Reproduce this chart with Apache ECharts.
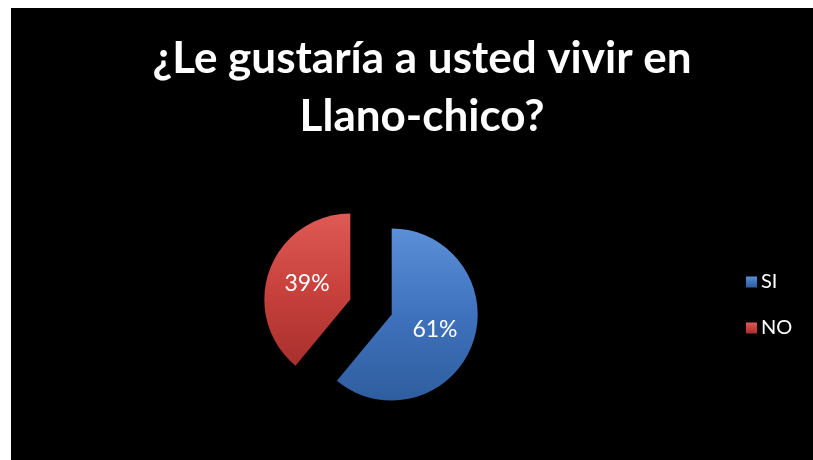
<!DOCTYPE html>
<html>
<head>
<meta charset="utf-8">
<script src="https://cdn.jsdelivr.net/npm/echarts@6/dist/echarts.min.js"></script>
<style>
html,body{margin:0;padding:0;background:#fff;}
#main{width:813px;height:460px;}
</style>
</head>
<body>
<div id="main"></div>
<script>
const titleLines = ['¿Le gustaría a usted vivir en', 'Llano-chico?'];
const categories = ['SI', 'NO'];
const values = [61, 39];
const labels = ['61%', '39%'];

const palette = [
  ['#5b90d8', '#3f72bd', '#2f5e9f'],
  ['#de5a55', '#c8413d', '#a8302d']
];

const chart = echarts.init(document.getElementById('main'));
chart.setOption({
  backgroundColor: '#ffffff',
  animation: false,
  graphic: [{
    type: 'rect', z: 0, silent: true,
    shape: {x: 11, y: 8, width: 802, height: 452},
    style: {fill: '#000000'}
  }],
  title: {
    text: titleLines.join('\n'),
    left: 417, top: 25, textAlign: 'center',
    textStyle: {color: '#ffffff', fontFamily: 'Lato', fontWeight: 'bold', fontSize: 44, lineHeight: 58}
  },
  legend: {
    orient: 'vertical', left: 741, top: 267,
    icon: 'rect', itemWidth: 11, itemHeight: 11, itemGap: 26,
    selectedMode: false,
    textStyle: {color: '#ffffff', fontFamily: 'Lato', fontSize: 20, padding: [0,0,0,-1]},
    data: categories
  },
  series: [{
    type: 'pie',
    center: [371, 307],
    radius: 86,
    startAngle: 90,
    clockwise: true,
    selectedMode: 'multiple',
    selectedOffset: 22,
    select: {itemStyle: {}},
    emphasis: {disabled: true},
    label: {
      show: true, position: 'inside', color: '#ffffff',
      fontFamily: 'Lato', fontSize: 23,
      formatter: p => labels[p.dataIndex]
    },
    labelLine: {show: false},
    data: categories.map((c, i) => ({
      name: c, value: values[i], selected: true,
      itemStyle: {
        color: new echarts.graphic.LinearGradient(0, 0, 0, 1, [
          {offset: 0, color: palette[i][0]},
          {offset: 0.5, color: palette[i][1]},
          {offset: 1, color: palette[i][2]}
        ])
      }
    }))
  }]
});
</script>
</body>
</html>
